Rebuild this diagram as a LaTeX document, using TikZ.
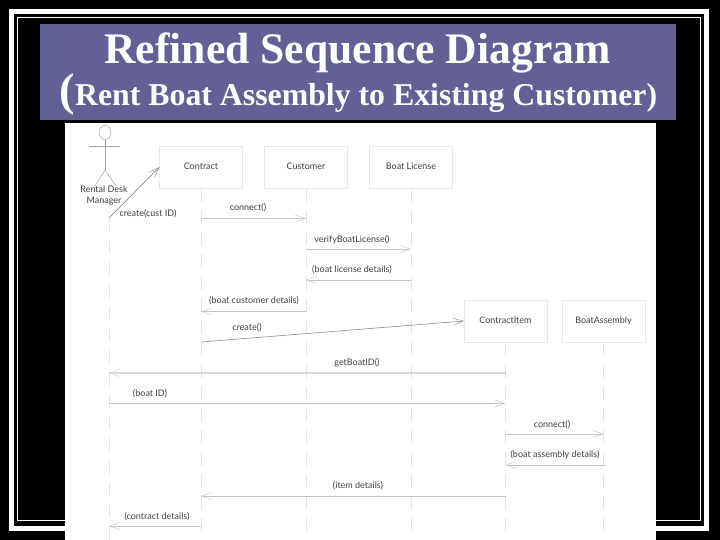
\documentclass[tikz,border=0pt]{standalone}
\usepackage{fontspec}
\setmainfont{Liberation Serif}
\newfontfamily\labelfont{Lato}
\usepackage{xcolor}
\usetikzlibrary{arrows.meta,positioning,shapes.geometric}
\definecolor{titleband}{RGB}{98,96,148}
\tikzset{
        node distance=22pt, % gap between the boxes of one row
        x=1pt,y=-1pt,
        >={Straight Barb[length=10pt,width=7pt,line width=0.5pt]},
    }
\tikzstyle{lifebox}=[draw=black!9,line width=0.8pt,fill=white,minimum width=83pt,minimum height=42pt,inner sep=0pt,outer sep=0pt,text height=6.5pt,text depth=2pt,text=black!75,font=\labelfont\fontsize{9}{11}\selectfont]
\tikzstyle{lifeline}=[draw=black!10,line width=1pt,dash pattern=on 14pt off 8pt]
\tikzstyle{msg}=[draw=black!22,line width=0.7pt,->]
\tikzstyle{msglabel}=[text=black!75,inner sep=0pt,font=\labelfont\fontsize{9}{11}\selectfont]
\tikzstyle{stick}=[draw=black!35,line width=0.5pt]
\tikzstyle{rule}=[draw=white]
\begin{document}
\begin{tikzpicture}
    \useasboundingbox (0,0) rectangle (720,540);
    \fill[black] (0,0) rectangle (720,540);
    % double frame
    \draw[rule,line width=5pt] (11.5,11.5) rectangle (706.5,528.5);
    \draw[rule,line width=1pt] (17.5,17.5) rectangle (700.5,520.5);
    % heading
    \fill[titleband] (40,24) rectangle (676,120);
    \node[text=white,inner sep=0pt,anchor=base,font=\fontsize{43.6}{44}\selectfont\bfseries] (heading) at (357.5,63.5) {Refined Sequence Diagram};
    \node[text=white,inner sep=0pt,anchor=base,font=\fontsize{31.8}{32}\selectfont\bfseries] (subheading) at (358.5,105.5) {{\fontsize{46}{46}\selectfont(}Rent Boat Assembly to Existing Customer)};
    % sheet
    \fill[white] (65,123) rectangle (656,540);
    % objects
    \node[lifebox] (contract) at (201,167) {Contract};
    \node[lifebox,right=of contract] (customer) {Customer};
    \node[lifebox,right=of customer] (license) {Boat License};
    \node[lifebox] (item) at (505.5,321) {ContractItem};
    \node[lifebox,right=15pt of item] (assembly) {BoatAssembly};
    % actor
    \node[draw=black!35,line width=0.5pt,ellipse,minimum width=12pt,minimum height=14pt,inner sep=0pt] (head) at (105,132.5) {};
    \coordinate (armL) at (89,146);
    \coordinate (armR) at (120,146);
    \coordinate (hip) at (105,170);
    \coordinate (legL) at (95,186);
    \coordinate (legR) at (116,186);
    \draw[stick] (armL) -- (armR);
    \draw[stick] (head) -- (hip);
    \draw[stick] (legL) -- (hip) -- (legR);
    \node[msglabel,align=center] (manager) at (104,196) {Rental Desk\\Manager};
    % lifelines
    \coordinate (actorTop) at (109,218);
    \coordinate (actorEnd) at (109,540);
    \coordinate (contractEnd) at (contract.south |- actorEnd);
    \coordinate (customerEnd) at (customer.south |- actorEnd);
    \coordinate (licenseEnd) at (license.south |- actorEnd);
    \coordinate (itemEnd) at (item.south |- actorEnd);
    \coordinate (assemblyEnd) at (assembly.south |- actorEnd);
    \draw[lifeline] (actorTop) -- (actorEnd);
    \draw[lifeline] (contract) -- (contractEnd);
    \draw[lifeline] (customer) -- (customerEnd);
    \draw[lifeline] (license) -- (licenseEnd);
    \draw[lifeline] (item) -- (itemEnd);
    \draw[lifeline] (assembly) -- (assemblyEnd);
    % messages
    \coordinate (a1) at (contract.south |- 0,218.5);
    \coordinate (b1) at (customer.south |- 0,218.5);
    \coordinate (a2) at (customer.south |- 0,249);
    \coordinate (b2) at (license.south |- 0,249);
    \coordinate (a3) at (license.south |- 0,280);
    \coordinate (b3) at (customer.south |- 0,280);
    \coordinate (a4) at (customer.south |- 0,311.5);
    \coordinate (b4) at (contract.south |- 0,311.5);
    \coordinate (a5) at (contract.south |- 0,342);
    \coordinate (a6) at (item.south |- 0,373);
    \coordinate (b6) at (actorTop |- 0,373);
    \coordinate (a7) at (actorTop |- 0,403.5);
    \coordinate (b7) at (item.south |- 0,403.5);
    \coordinate (a8) at (item.south |- 0,434);
    \coordinate (b8) at (assemblyEnd |- 0,434);
    \coordinate (a9) at (606,465);
    \coordinate (b9) at (item.south |- 0,465);
    \coordinate (a10) at (item.south |- 0,496);
    \coordinate (b10) at (contract.south |- 0,496);
    \coordinate (a11) at (contract.south |- 0,526);
    \coordinate (b11) at (actorTop |- 0,526);
    \draw[msg,draw=black!45] (actorTop) -- (contract.west);
    \draw[msg] (a1) -- (b1);
    \draw[msg] (a2) -- (b2);
    \draw[msg] (a3) -- (b3);
    \draw[msg] (a4) -- (b4);
    \draw[msg,draw=black!40] (a5) -- (item.west);
    \draw[msg,line width=1.2pt,draw=black!15] (a6) -- (b6);
    \draw[msg] (a7) -- (b7);
    \draw[msg] (a8) -- (b8);
    \draw[msg] (a9) -- (b9);
    \draw[msg] (a10) -- (b10);
    \draw[msg] (a11) -- (b11);
    % message labels
    \node[msglabel] (l0) at (148,214) {create(cust ID)};
    \node[msglabel] (l1) at (248,208) {connect()};
    \node[msglabel] (l2) at (352,240) {verifyBoatLicense()};
    \node[msglabel] (l3) at (352,270) {(boat license details)};
    \node[msglabel] (l4) at (254,301) {(boat customer details)};
    \node[msglabel] (l5) at (247,328) {create()};
    \node[msglabel] (l6) at (357,363) {getBoatID()};
    \node[msglabel] (l7) at (150,394) {(boat ID)};
    \node[msglabel] (l8) at (552,425) {connect()};
    \node[msglabel] (l9) at (555,455) {(boat assembly details)};
    \node[msglabel] (l10) at (358,486) {(item details)};
    \node[msglabel] (l11) at (157,517) {(contract details)};
\end{tikzpicture}
\end{document}
